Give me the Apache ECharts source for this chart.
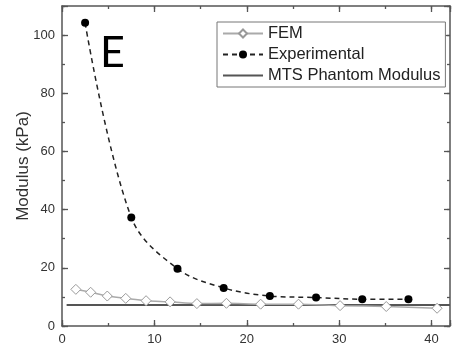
<!DOCTYPE html>
<html><head><meta charset="utf-8">
<script src="https://cdn.jsdelivr.net/npm/echarts@6/dist/echarts.min.js"></script>
<style>html,body{margin:0;padding:0;background:#fff}#c{width:452px;height:353px}</style>
</head><body><div id="c"></div>
<script>
const femX = [1.5, 3.1, 4.9, 6.9, 9.1, 11.7, 14.6, 17.8, 21.5, 25.6, 30.1, 35.1, 40.6];
const femY = [12.6, 11.6, 10.3, 9.5, 8.7, 8.3, 7.7, 7.8, 7.5, 7.5, 7.0, 6.7, 6.1];
const expX = [2.5, 7.5, 12.5, 17.5, 22.5, 27.5, 32.5, 37.5];
const expY = [104.2, 37.3, 19.7, 13.1, 10.3, 9.8, 9.2, 9.2];
const mtsX = [0.5, 42];
const mtsY = [7.2, 7.2];
const xTicks = [0, 10, 20, 30, 40];
const yTicks = [0, 20, 40, 60, 80, 100];

const axisColor = '#555';
const font = 'Liberation Sans, Arial, sans-serif';
function xAx(pos, interval, len, labels, show) {
  return {
    type: 'value', position: pos, min: 0, max: 42, interval: interval,
    axisLine: { show: show, onZero: false, lineStyle: { color: axisColor, width: 1.5 } },
    axisTick: { show: true, inside: true, length: len, lineStyle: { color: axisColor, width: 1.3 } },
    axisLabel: labels ? { show: true, color: '#333', fontSize: 13, fontFamily: font, margin: 7,
      formatter: v => xTicks.includes(v) ? String(v) : '' } : { show: false },
    splitLine: { show: false }
  };
}
function yAx(pos, interval, len, labels, show) {
  const o = {
    type: 'value', position: pos, min: 0, max: 110, interval: interval,
    axisLine: { show: show, onZero: false, lineStyle: { color: axisColor, width: 1.5 } },
    axisTick: { show: true, inside: true, length: len, lineStyle: { color: axisColor, width: 1.3 } },
    axisLabel: labels ? { show: true, color: '#333', fontSize: 13, fontFamily: font, margin: 7,
      formatter: v => yTicks.includes(v) ? String(v) : '' } : { show: false },
    splitLine: { show: false }
  };
  if (labels) {
    o.name = 'Modulus (kPa)'; o.nameLocation = 'middle'; o.nameGap = 30;
    o.nameMoveOverlap = false;
    o.nameTextStyle = { color: '#333', fontSize: 17, fontFamily: font };
  }
  return o;
}
const chart = echarts.init(document.getElementById('c'), null, { renderer: 'canvas' });
chart.setOption({
  animation: false,
  grid: { left: 62, right: 2, top: 6, bottom: 27, outerBoundsMode: 'none', containLabel: false },
  xAxis: [xAx('bottom', 10, 6, true, true), xAx('bottom', 5, 3, false, false),
          xAx('top', 10, 6, false, true), xAx('top', 5, 3, false, false)],
  yAxis: [yAx('left', 20, 6, true, true), yAx('left', 10, 3, false, false),
          yAx('right', 20, 6, false, true), yAx('right', 10, 3, false, false)],
  legend: {
    orient: 'vertical', left: 217, top: 22, padding: [3, 5, 3, 5],
    borderColor: '#777', borderWidth: 1, backgroundColor: '#fff',
    itemWidth: 40, itemHeight: 10, itemGap: 4,
    textStyle: { fontSize: 16.5, fontFamily: font, color: '#222' },
    data: ['FEM', 'Experimental',
      { name: 'MTS Phantom Modulus', itemStyle: { color: 'rgba(0,0,0,0)', borderColor: 'rgba(0,0,0,0)', opacity: 0 } }]
  },
  graphic: [{ type: 'text', left: 100, top: 32, style: { text: 'E', fontSize: 43, fontFamily: 'Lato, Open Sans, sans-serif', fill: '#000' } }],
  series: [
    { name: 'MTS Phantom Modulus', type: 'line', showSymbol: false, symbol: 'none',
      data: mtsX.map((x, i) => [x, mtsY[i]]), lineStyle: { color: '#555', width: 2 }, itemStyle: { color: '#555' }, z: 1 },
    { name: 'FEM', type: 'line', symbol: 'diamond', symbolSize: 10, smooth: 0.3,
      data: femX.map((x, i) => [x, femY[i]]),
      lineStyle: { color: '#aaa', width: 1.5 },
      itemStyle: { color: '#fff', borderColor: '#999', borderWidth: 1 }, z: 2 },
    { name: 'Experimental', type: 'line', symbol: 'circle', symbolSize: 8, smooth: 0.35,
      data: expX.map((x, i) => [x, expY[i]]),
      lineStyle: { color: '#222', width: 1.5, type: [5, 4] },
      itemStyle: { color: '#000' }, z: 3 }
  ]
});
</script></body></html>
